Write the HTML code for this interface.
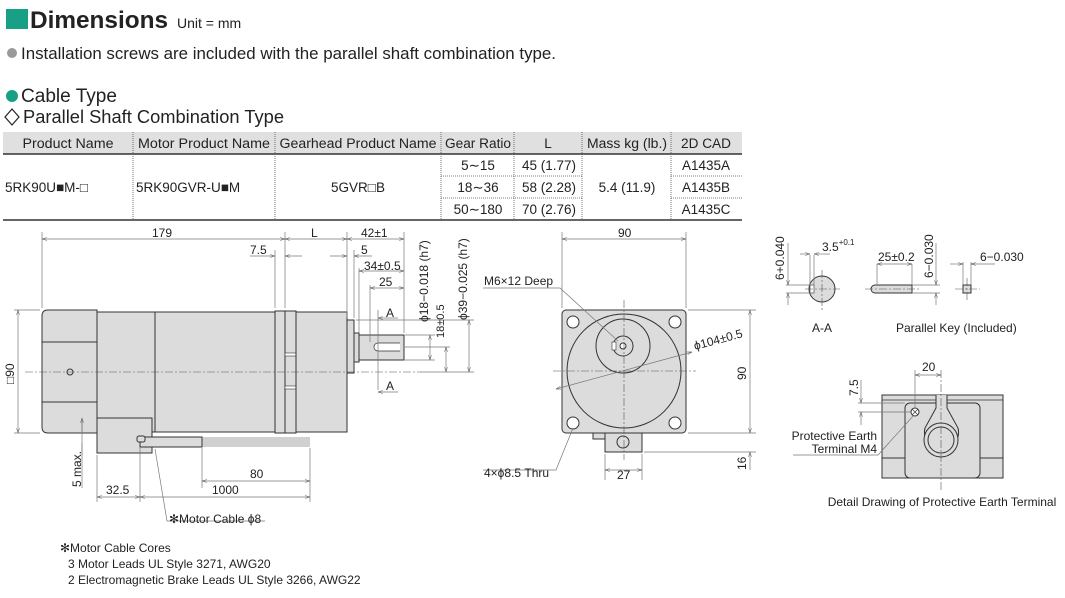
<!DOCTYPE html>
<html><head><meta charset="utf-8">
<style>
body{margin:0;background:#fff;width:1065px;height:598px;overflow:hidden;font-family:"Liberation Sans",sans-serif;}
svg{position:absolute;left:0;top:0}
.n{font-family:"Liberation Sans Narrow","Liberation Sans",sans-serif;font-size:12px;fill:#222}
.t{font-family:"Liberation Sans",sans-serif;fill:#222}
.d{stroke:#777;stroke-width:0.7;fill:none}
.o{stroke:#333;stroke-width:1;fill:#dcdcdc}
.c{stroke:#555;stroke-width:0.6;stroke-dasharray:8 2 2 2;fill:none}
</style></head><body>
<svg width="1065" height="598" viewBox="0 0 1065 598">
<defs>
<marker id="a" viewBox="0 0 10 10" refX="10" refY="5" markerWidth="7" markerHeight="7" orient="auto-start-reverse"><path d="M0,2 L10,5 L0,8" fill="none" stroke="#555" stroke-width="1"/></marker>
</defs>
<!-- header -->
<rect x="6" y="9" width="22" height="20" fill="#17a086"/>
<text x="30" y="28" class="t" font-size="24" font-weight="bold" textLength="138" lengthAdjust="spacingAndGlyphs">Dimensions</text>
<text x="177" y="28" class="t" font-size="14">Unit = mm</text>
<circle cx="12" cy="53" r="5" fill="#999"/>
<text x="21" y="59" class="t" font-size="17" textLength="535" lengthAdjust="spacingAndGlyphs">Installation screws are included with the parallel shaft combination type.</text>
<circle cx="12" cy="96" r="6" fill="#17a086"/>
<text x="21" y="102" class="t" font-size="19" textLength="96" lengthAdjust="spacingAndGlyphs">Cable Type</text>
<path d="M12,109 L19,117 L12,125 L5,117 Z" fill="none" stroke="#222" stroke-width="1.2"/>
<text x="23" y="123" class="t" font-size="18.5" textLength="261" lengthAdjust="spacingAndGlyphs">Parallel Shaft Combination Type</text>
<!-- table -->
<rect x="3" y="132" width="739" height="22" fill="#e0e0e0"/>
<line x1="3" y1="154" x2="742" y2="154" stroke="#333" stroke-width="1.5"/>
<line x1="3" y1="220" x2="742" y2="220" stroke="#333" stroke-width="1.5"/>
<g stroke="#555" stroke-width="0.8" stroke-dasharray="1 1">
<line x1="133" y1="132" x2="133" y2="220"/><line x1="275" y1="132" x2="275" y2="220"/>
<line x1="441" y1="132" x2="441" y2="220"/><line x1="514" y1="132" x2="514" y2="220"/>
<line x1="582" y1="132" x2="582" y2="220"/><line x1="671" y1="132" x2="671" y2="220"/>
<line x1="441" y1="176" x2="582" y2="176"/><line x1="441" y1="198" x2="582" y2="198"/>
<line x1="671" y1="176" x2="742" y2="176"/><line x1="671" y1="198" x2="742" y2="198"/>
</g>
<g class="t" font-size="13.5" text-anchor="middle" fill="#333">
<text x="68" y="148" textLength="91" lengthAdjust="spacingAndGlyphs">Product Name</text>
<text x="204" y="148" textLength="132" lengthAdjust="spacingAndGlyphs">Motor Product Name</text>
<text x="358" y="148" textLength="157" lengthAdjust="spacingAndGlyphs">Gearhead Product Name</text>
<text x="478" y="148" textLength="66" lengthAdjust="spacingAndGlyphs">Gear Ratio</text>
<text x="548" y="148">L</text>
<text x="627" y="148" textLength="80" lengthAdjust="spacingAndGlyphs">Mass kg (lb.)</text>
<text x="706" y="148" textLength="50" lengthAdjust="spacingAndGlyphs">2D CAD</text>
<text x="478" y="170">5∼15</text><text x="478" y="192">18∼36</text><text x="478" y="214">50∼180</text>
<text x="549" y="170">45 (1.77)</text><text x="549" y="192">58 (2.28)</text><text x="549" y="214">70 (2.76)</text>
<text x="627" y="192">5.4 (11.9)</text>
<text x="706" y="170">A1435A</text><text x="706" y="192">A1435B</text><text x="706" y="214">A1435C</text>
<text x="358" y="192">5GVR□B</text>
</g>
<g class="t" font-size="13.5" fill="#333"><text x="5" y="192">5RK90U■M-□</text><text x="136" y="192">5RK90GVR-U■M</text></g>
<!-- side view -->
<path d="M48,310 H97 V433 H48 Q42,433 42,427 V316 Q42,310 48,310Z" class="o"/>
<line x1="42" y1="342" x2="97" y2="342" stroke="#333"/>
<line x1="42" y1="402" x2="97" y2="402" stroke="#333"/>
<rect x="97" y="312" width="178" height="120" class="o"/>
<line x1="155" y1="312" x2="155" y2="432" stroke="#333"/>
<rect x="275" y="311" width="21" height="122" class="o"/>
<line x1="285" y1="311" x2="285" y2="433" stroke="#333"/>
<rect x="285" y="353" width="11" height="3" fill="#fff" stroke="#333" stroke-width="0.6"/>
<rect x="285" y="386" width="11" height="3" fill="#fff" stroke="#333" stroke-width="0.6"/>
<rect x="296" y="312" width="51" height="120" class="o"/>
<rect x="347" y="320" width="7" height="53" class="o"/>
<rect x="354" y="333" width="5" height="29" class="o"/>
<rect x="359" y="335" width="45" height="25" class="o"/>
<path d="M400,343 H378 A4,4 0 0 0 378,351 H400" fill="#fff" stroke="#333" stroke-width="0.7"/>
<rect x="97" y="418" width="55" height="35" class="o"/>
<rect x="140" y="437" width="62" height="10" class="o"/>
<g stroke="#444" stroke-width="0.6"><line x1="202" y1="438" x2="310" y2="438"/><line x1="202" y1="440" x2="310" y2="440"/><line x1="202" y1="442" x2="310" y2="442"/><line x1="202" y1="444" x2="310" y2="444"/><line x1="202" y1="446" x2="310" y2="446"/></g>
<rect x="137" y="436" width="8" height="6" rx="2" class="o"/>
<circle cx="70" cy="372" r="3" fill="none" stroke="#333"/>
<line x1="25" y1="372" x2="420" y2="372" class="c"/>
<!-- side dims -->
<g class="d">
<line x1="42" y1="232" x2="42" y2="308"/><line x1="285" y1="232" x2="285" y2="308"/>
<line x1="347" y1="232" x2="347" y2="318"/><line x1="404" y1="232" x2="404" y2="333"/>
<line x1="275" y1="250" x2="275" y2="308"/><line x1="354" y1="250" x2="354" y2="318"/>
<line x1="359" y1="268" x2="359" y2="333"/><line x1="370" y1="285" x2="370" y2="342"/>
<line x1="42" y1="239" x2="285" y2="239" marker-start="url(#a)" marker-end="url(#a)"/>
<line x1="285" y1="239" x2="347" y2="239" marker-start="url(#a)" marker-end="url(#a)"/>
<line x1="347" y1="239" x2="404" y2="239" marker-start="url(#a)" marker-end="url(#a)"/>
<line x1="250" y1="256" x2="275" y2="256" marker-end="url(#a)"/><line x1="302" y1="256" x2="285" y2="256" marker-end="url(#a)"/>
<line x1="330" y1="256" x2="347" y2="256" marker-end="url(#a)"/><line x1="372" y1="256" x2="354" y2="256" marker-end="url(#a)"/>
<line x1="359" y1="271" x2="404" y2="271" marker-start="url(#a)" marker-end="url(#a)"/>
<line x1="370" y1="288" x2="404" y2="288" marker-start="url(#a)" marker-end="url(#a)"/>
<line x1="14" y1="310" x2="40" y2="310"/><line x1="14" y1="433" x2="40" y2="433"/>
<line x1="18" y1="310" x2="18" y2="433" marker-start="url(#a)" marker-end="url(#a)"/>
<line x1="405" y1="335" x2="435" y2="335"/><line x1="405" y1="360" x2="435" y2="360"/>
<line x1="430" y1="335" x2="430" y2="360" marker-start="url(#a)" marker-end="url(#a)"/>
<line x1="405" y1="347" x2="450" y2="347"/>
<line x1="446" y1="347" x2="446" y2="372" marker-start="url(#a)" marker-end="url(#a)"/>
<line x1="356" y1="320" x2="474" y2="320"/><line x1="420" y1="372" x2="474" y2="372"/>
<line x1="469" y1="320" x2="469" y2="372" marker-start="url(#a)" marker-end="url(#a)"/>
<line x1="378" y1="310" x2="378" y2="390"/>
<line x1="398" y1="318" x2="378" y2="318" marker-end="url(#a)"/><line x1="398" y1="392" x2="378" y2="392" marker-end="url(#a)"/>
<line x1="82" y1="420" x2="82" y2="488"/>
<line x1="82" y1="432" x2="82" y2="418" marker-end="url(#a)"/><line x1="82" y1="455" x2="82" y2="443" />
<line x1="97" y1="455" x2="97" y2="502"/><line x1="140" y1="448" x2="140" y2="502"/>
<line x1="202" y1="448" x2="202" y2="488"/><line x1="310" y1="448" x2="310" y2="502"/>
<line x1="202" y1="481" x2="310" y2="481" marker-start="url(#a)" marker-end="url(#a)"/>
<line x1="97" y1="497" x2="140" y2="497" marker-start="url(#a)" marker-end="url(#a)"/>
<line x1="140" y1="497" x2="310" y2="497" marker-start="url(#a)" marker-end="url(#a)"/>
<polyline points="155,449 167,521 265,521"/>
</g>
<g class="n">
<text x="152" y="237">179</text><text x="311" y="237">L</text><text x="361" y="237">42±1</text>
<text x="250" y="254">7.5</text><text x="361" y="254">5</text><text x="364" y="270">34±0.5</text>
<text x="379" y="286">25</text><text x="386" y="317">A</text><text x="386" y="390">A</text>
<text x="250" y="478">80</text><text x="212" y="494">1000</text><text x="106" y="494">32.5</text>
<text x="169" y="523">✻Motor Cable ϕ8</text>
<text transform="translate(14,384) rotate(-90)">□90</text>
<text transform="translate(81,487) rotate(-90)">5 max.</text>
<text transform="translate(428,322) rotate(-90)">ϕ18−0.018 (h7)</text>
<text transform="translate(444,338) rotate(-90)" font-size="11">18±0.5</text>
<text transform="translate(467,320) rotate(-90)">ϕ39−0.025 (h7)</text>
</g>
<!-- front view -->
<rect x="562" y="310" width="124" height="123" rx="4" class="o"/>
<circle cx="624" cy="371" r="57" fill="#dcdcdc" stroke="#333"/>
<circle cx="623" cy="346" r="27" fill="#dcdcdc" stroke="#333"/>
<circle cx="623" cy="346" r="10" fill="#dcdcdc" stroke="#333"/>
<circle cx="623" cy="346" r="3" fill="#fff" stroke="#333"/>
<rect x="612" y="342" width="4" height="8" fill="#fff" stroke="#333" stroke-width="0.6"/>
<g fill="#fff" stroke="#333"><circle cx="573" cy="322" r="6"/><circle cx="675" cy="322" r="6"/><circle cx="573" cy="423" r="6"/><circle cx="675" cy="423" r="6"/></g>
<rect x="605" y="433" width="37" height="19" class="o"/>
<circle cx="623" cy="442" r="6" fill="#dcdcdc" stroke="#333"/>
<rect x="593" y="433" width="12" height="6" class="o"/>
<line x1="553" y1="371" x2="696" y2="371" class="c"/><line x1="624" y1="300" x2="624" y2="460" class="c"/>
<g class="d">
<line x1="562" y1="232" x2="562" y2="308"/><line x1="686" y1="232" x2="686" y2="308"/>
<line x1="562" y1="239" x2="686" y2="239" marker-start="url(#a)" marker-end="url(#a)"/>
<line x1="688" y1="310" x2="756" y2="310"/><line x1="688" y1="433" x2="756" y2="433"/><line x1="644" y1="452" x2="756" y2="452"/>
<line x1="750" y1="310" x2="750" y2="433" marker-start="url(#a)" marker-end="url(#a)"/>
<line x1="750" y1="470" x2="750" y2="452" marker-end="url(#a)"/>
<line x1="605" y1="454" x2="605" y2="480"/><line x1="642" y1="454" x2="642" y2="480"/>
<line x1="605" y1="470" x2="642" y2="470" marker-start="url(#a)" marker-end="url(#a)"/>
<line x1="556" y1="389" x2="692" y2="352" marker-start="url(#a)" marker-end="url(#a)"/>
<polyline points="483,288 560,288 618,341"/>
<polyline points="483,470 556,470 573,428"/>
</g>
<g class="n">
<text x="618" y="237">90</text><text x="484" y="285">M6×12 Deep</text>
<text x="484" y="477">4×ϕ8.5 Thru</text><text x="617" y="479">27</text>
<text transform="translate(695,350) rotate(-15)">ϕ104±0.5</text>
<text transform="translate(746,380) rotate(-90)">90</text>
<text transform="translate(746,470) rotate(-90)">16</text>
</g>
<!-- A-A -->
<circle cx="822" cy="289" r="13" class="o"/>
<rect x="810" y="285" width="4" height="8" fill="#fff" stroke="#333" stroke-width="0.6"/>
<line x1="805" y1="289" x2="840" y2="289" class="c"/><line x1="822" y1="270" x2="822" y2="310" class="c"/>
<path d="M912,285 H875 A4,4 0 0 0 875,293 H912Z" class="o"/>
<line x1="865" y1="289" x2="920" y2="289" class="c"/>
<rect x="963" y="285" width="8" height="8" class="o"/>
<line x1="955" y1="289" x2="980" y2="289" class="c"/><line x1="967" y1="278" x2="967" y2="300" class="c"/>
<g class="d">
<line x1="786" y1="285" x2="812" y2="285"/><line x1="786" y1="293" x2="812" y2="293"/>
<line x1="788" y1="243" x2="788" y2="285" marker-end="url(#a)"/><line x1="788" y1="305" x2="788" y2="293" marker-end="url(#a)"/>
<line x1="810" y1="255" x2="810" y2="285"/><line x1="814" y1="255" x2="814" y2="285"/>
<line x1="800" y1="254" x2="810" y2="254" marker-end="url(#a)"/><line x1="830" y1="254" x2="814" y2="254" marker-end="url(#a)"/>
<line x1="877" y1="264" x2="877" y2="285"/><line x1="912" y1="264" x2="912" y2="285"/>
<line x1="877" y1="264" x2="912" y2="264" marker-start="url(#a)" marker-end="url(#a)"/>
<line x1="912" y1="285" x2="940" y2="285"/><line x1="912" y1="293" x2="940" y2="293"/>
<line x1="936" y1="243" x2="936" y2="285" marker-end="url(#a)"/><line x1="936" y1="305" x2="936" y2="293" marker-end="url(#a)"/>
<line x1="963" y1="262" x2="963" y2="285"/><line x1="971" y1="262" x2="971" y2="285"/>
<line x1="950" y1="264" x2="963" y2="264" marker-end="url(#a)"/><line x1="995" y1="264" x2="971" y2="264" marker-end="url(#a)"/>
</g>
<g class="n">
<text x="822" y="251">3.5<tspan font-size="8" dy="-6">+0.1</tspan></text>
<text x="878" y="261">25±0.2</text><text x="980" y="261">6−0.030</text>
<text transform="translate(784,280) rotate(-90)">6+0.040</text>
<text transform="translate(933,278) rotate(-90)">6−0.030</text>
<text x="812" y="332">A-A</text><text x="896" y="332">Parallel Key (Included)</text>
</g>
<!-- earth detail -->
<rect x="882" y="395" width="121" height="83" class="o"/>
<line x1="882" y1="400" x2="1003" y2="400" stroke="#333" stroke-width="0.7"/>
<rect x="905" y="403" width="75" height="75" rx="5" fill="#dcdcdc" stroke="#333"/>
<line x1="882" y1="458" x2="905" y2="458" stroke="#333"/><line x1="980" y1="458" x2="1003" y2="458" stroke="#333"/>
<path d="M936,395 V408 L925,428 A17,17 0 1 0 958,428 L947,408 V395" class="o"/>
<circle cx="941" cy="440" r="17" fill="#dcdcdc" stroke="#333"/>
<circle cx="941" cy="440" r="13" fill="#dcdcdc" stroke="#333"/>
<circle cx="915" cy="412" r="4" fill="#fff" stroke="#333"/>
<path d="M912,409 L918,415 M918,409 L912,415" stroke="#333" stroke-width="0.7"/>
<line x1="941" y1="370" x2="941" y2="490" class="c"/>
<g class="d">
<line x1="915" y1="370" x2="915" y2="408"/>
<line x1="915" y1="375" x2="941" y2="375" marker-start="url(#a)" marker-end="url(#a)"/>
<line x1="858" y1="403" x2="905" y2="403"/><line x1="858" y1="412" x2="911" y2="412"/>
<line x1="861" y1="380" x2="861" y2="403" marker-end="url(#a)"/><line x1="861" y1="425" x2="861" y2="412" marker-end="url(#a)"/>
<polyline points="793,455 878,455 914,415"/>
</g>
<g class="n">
<text x="922" y="371">20</text><text transform="translate(858,396) rotate(-90)">7.5</text>
<text x="877" y="440" text-anchor="end">Protective Earth</text>
<text x="877" y="453" text-anchor="end">Terminal M4</text>
<text x="942" y="506" text-anchor="middle">Detail Drawing of Protective Earth Terminal</text>
</g>
<!-- notes -->
<g class="n">
<text x="60" y="552">✻Motor Cable Cores</text>
<text x="68" y="568">3 Motor Leads UL Style 3271, AWG20</text>
<text x="68" y="584">2 Electromagnetic Brake Leads UL Style 3266, AWG22</text>
</g>
</svg>
</body></html>
